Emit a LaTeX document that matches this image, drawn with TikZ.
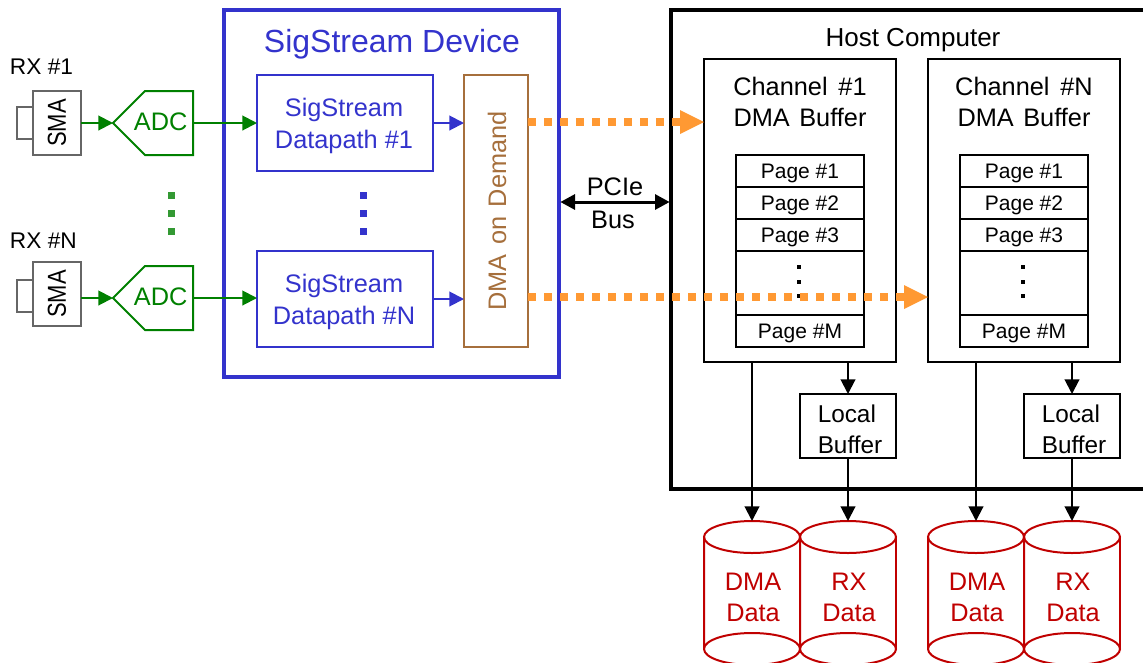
\documentclass[tikz,border=0pt]{standalone}
\usepackage{fontspec}
\setmainfont{Liberation Sans}
\usetikzlibrary{arrows.meta}
\definecolor{sigblue}{HTML}{3333CC}
\definecolor{siggreen}{HTML}{008000}
\definecolor{sigbrown}{HTML}{A66F3C}
\definecolor{sigorange}{HTML}{FF9933}
\definecolor{sigred}{HTML}{C00000}
\definecolor{siggray}{HTML}{666666}
\newcommand{\bigfont}{\fontsize{19pt}{23.25pt}\selectfont}
\newcommand{\pagefont}{\fontsize{15.75pt}{18pt}\selectfont}
\tikzset{
  x=0.75pt,y=-0.75pt,
  box/.style={draw,line width=1.5pt,inner sep=0pt,outer sep=0pt,align=center,font=\bigfont},
  smabox/.style={box,draw=siggray,minimum width=36pt,minimum height=48pt,text=black,font=\fontsize{16.5pt}{20pt}\selectfont},
  smatab/.style={draw=siggray,line width=1.5pt,inner sep=0pt,outer sep=0pt,minimum width=12pt,minimum height=24pt},
  adcbox/.style={inner sep=0pt,outer sep=0pt,minimum width=60pt,minimum height=48pt,text=siggreen,font=\bigfont,text height=10.5pt,text depth=0pt},
  adcshape/.style={draw=siggreen,line width=1.5pt,line join=miter},
  dpbox/.style={box,draw=sigblue,minimum width=132pt,minimum height=72pt},
  chanbox/.style={box,draw=black,minimum width=144pt,minimum height=227.25pt},
  pagebox/.style={box,draw=black,minimum width=96pt,minimum height=24pt,font=\pagefont,text height=11.3pt,text depth=0pt},
  localbox/.style={box,draw=black,minimum width=72pt,minimum height=48pt},
  plain/.style={inner sep=0pt,outer sep=0pt,align=center,font=\bigfont},
  frame/.style={draw,line width=3pt,inner sep=0pt,outer sep=0pt,anchor=north west},
  greenarrow/.style={draw=siggreen,line width=1.5pt,-{Triangle[length=11pt,width=11pt,fill=siggreen]}},
  bluearrow/.style={draw=sigblue,line width=1.5pt,-{Triangle[length=11pt,width=11pt,fill=sigblue]}},
  blackarrow/.style={draw=black,line width=1.5pt,-{Triangle[length=11pt,width=11pt,fill=black]}},
  orangearrow/.style={draw=sigorange,line width=6pt,dash pattern=on 6pt off 6pt},
  orangehead/.style={fill=sigorange},
  dotsq/.style={inner sep=0pt,minimum size=5.25pt},
  pagedot/.style={fill=black,inner sep=0pt,minimum size=3.5pt},
  cyl/.style={draw=sigred,line width=1.5pt},
}
\begin{document}
\begin{tikzpicture}
\useasboundingbox (0,0) rectangle (1143,662);
\clip (0,0) rectangle (1143,662);
% host computer
\node[frame,minimum width=400pt,minimum height=359.25pt] (host) at (671,10) {};
\node[plain,font=\fontsize{19.5pt}{22pt}\selectfont] (hosttitle) at (913,40) {Host Computer};
% SigStream device
\node[frame,draw=sigblue,minimum width=251.25pt,minimum height=275.25pt] (dev) at (224,10) {};
\node[plain,text=sigblue,font=\fontsize{24pt}{28pt}\selectfont] (devtitle) at (392,44) {SigStream Device};
% RX labels
\node[plain,anchor=west,font=\fontsize{17pt}{20pt}\selectfont] (rx1) at (10,67) {RX \#1};
\node[plain,anchor=west,font=\fontsize{17pt}{20pt}\selectfont] (rxn) at (10,241) {RX \#N};
% SMA
\node[smabox] (sma1) at (57,123) {\rotatebox{90}{\scalebox{1}[1.18]{SMA}}};
\node[smabox] (sman) at (57,294) {\rotatebox{90}{\scalebox{1}[1.18]{SMA}}};
\node[smatab] (tab1) at (25,123) {};
\node[smatab] (tabn) at (25,296) {};
% ADC
\node[adcbox] (adc1) at (153,123) {\hspace{11.5pt}ADC};
\node[adcbox] (adcn) at (153,298) {\hspace{11.5pt}ADC};
\foreach \a in {adc1,adcn}{
  \draw[adcshape] (\a.west) -- ([xshift=24pt]\a.north west) -- (\a.north east) -- (\a.south east) -- ([xshift=24pt]\a.south west) -- cycle;
}
% datapaths
\node[dpbox] (dp1) at (345,123) {};
\node[dpbox] (dpn) at (345,299) {};
\node[plain,text=sigblue] (dp1t) at (344,126) {SigStream\\[1pt]Datapath \#1};
\node[plain,text=sigblue] (dpnt) at (344,302) {SigStream\\[1pt]Datapath \#N};
% DMA
\node[box,draw=sigbrown,minimum width=48pt,minimum height=204pt] (dma) at (496,211) {};
\node[plain,text=sigbrown] (dmat) at (497,211) {\rotatebox{90}{DMA\hspace{0.1em} on\hspace{0.1em} Demand}};
% channels
\node[chanbox] (ch1) at (800,210.5) {};
\node[chanbox] (chn) at (1024,210.5) {};
\node[plain] (ch1t) at (800,101.5) {Channel\hspace{0.15em} \#1\\DMA\hspace{0.1em} Buffer};
\node[plain] (chnt) at (1024,101.5) {Channel\hspace{0.15em} \#N\\DMA\hspace{0.1em} Buffer};
% pages
\foreach \c/\x in {a/800,b/1024}{
  \node[pagebox] (\c p1) at (\x,171) {Page \#1};
  \node[pagebox] (\c p2) at (\x,203) {Page \#2};
  \node[pagebox] (\c p3) at (\x,235) {Page \#3};
  \node[pagebox,minimum height=48pt] (\c pd) at (\x,283) {};
  \node[pagebox] (\c pm) at (\x,331) {Page \#M};
  \foreach \y in {267,282,296}{
    \node[pagedot] at (\x-1,\y) {};
  }
}
% local buffers
\node[localbox] (loc1) at (848,426) {};
\node[localbox] (locn) at (1072,426) {};
\node[plain,align=left,font=\fontsize{18.25pt}{23.25pt}\selectfont] (loc1t) at (850,429) {Local\\Buffer};
\node[plain,align=left,font=\fontsize{18.25pt}{23.25pt}\selectfont] (locnt) at (1074,429) {Local\\Buffer};
% cylinders
\foreach \n/\x/\l in {d1/752/DMA,r1/848/RX,dn/976/DMA,rn/1072/RX}{
  \draw[cyl] (\x-48,537) -- (\x-48,649) arc[start angle=180,end angle=540,x radius=36pt,y radius=12pt];
  \draw[cyl] (\x+48,537) -- (\x+48,649);
  \draw[cyl] (\x,537) ellipse[x radius=36pt,y radius=12pt];
  \coordinate (\n) at (\x,521);
  \node[plain,text=sigred] (\n t) at (\x+1,597) {\l\\Data};
}
% connectors
\draw[greenarrow] (sma1.east) -- (adc1.west);
\draw[greenarrow] (sman.east |- adcn.west) -- (adcn.west);
\draw[greenarrow] (adc1.east) -- (dp1.west |- adc1.east);
\draw[greenarrow] (adcn.east) -- (dpn.west |- adcn.east);
\draw[bluearrow] (dp1.east) -- (dma.west |- dp1.east);
\draw[bluearrow] (dpn.east) -- (dma.west |- dpn.east);
\draw[black,line width=2.25pt,{Triangle[length=11pt,width=11.25pt]}-{Triangle[length=11pt,width=11.25pt]}] ([xshift=1pt]dev.east |- 0,202) -- ([xshift=-1pt]host.west |- 0,202);
\node[plain] (pcie) at (615,187) {PCIe};
\node[plain] (bus) at (613,220) {Bus};
% vertical connectors
\draw[blackarrow] (d1 |- ch1.south) -- (d1);
\draw[blackarrow] (dn |- chn.south) -- (dn);
\draw[blackarrow] (loc1.north |- ch1.south) -- (loc1.north);
\draw[blackarrow] (locn.north |- chn.south) -- (locn.north);
\draw[blackarrow] (loc1.south) -- (r1);
\draw[blackarrow] (locn.south) -- (rn);
% DMA data paths
\coordinate (o1) at (680,122);
\coordinate (on) at (904,297);
\draw[orangearrow] (dma.east |- o1) -- (o1);
\draw[orangearrow] (dma.east |- on) -- (on);
\fill[orangehead] (ch1.west |- o1) -- ++(-24,-12) -- ++(0,24) -- cycle;
\fill[orangehead] (chn.west |- on) -- ++(-24,-12) -- ++(0,24) -- cycle;
% ellipsis dots
\foreach \y in {195,213,231}{
  \node[dotsq,fill=siggreen!80!white] at (171,\y) {};
  \node[dotsq,fill=sigblue] at (363,\y) {};
}
\end{tikzpicture}
\end{document}
